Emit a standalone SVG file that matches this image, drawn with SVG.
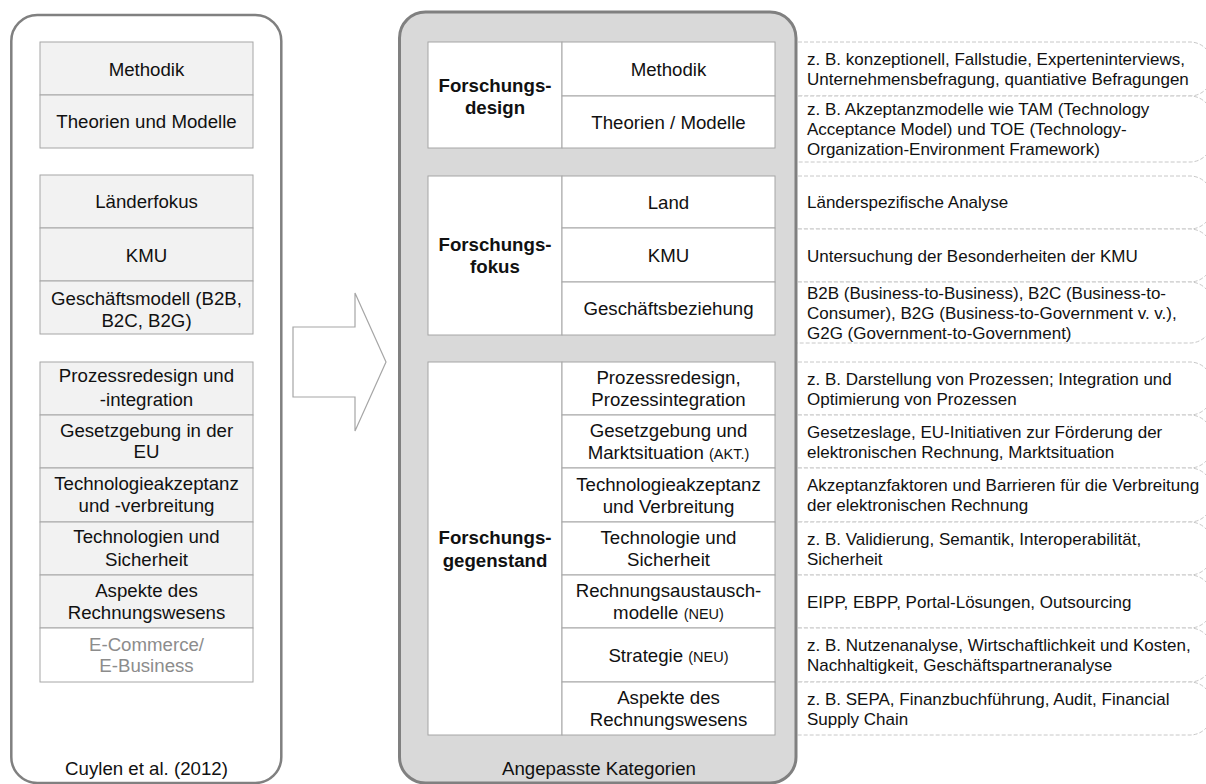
<svg xmlns="http://www.w3.org/2000/svg" width="1206" height="784" viewBox="0 0 1206 784">
<defs>
<style>
text{font-family:"Liberation Sans",Arial,sans-serif;fill:#111}
.t{font-size:18.67px;text-anchor:middle}
.b{font-size:18.67px;text-anchor:middle;font-weight:bold}
.s{font-size:14.5px}
.d{font-size:17px}
.g{fill:#8c8c8c}
.panel{fill:#fff;stroke:#808080;stroke-width:2.5}
.mpanel{fill:#d9d9d9;stroke:#808080;stroke-width:3}
.cell{fill:#f2f2f2;stroke:#a6a6a6;stroke-width:1}
.wcell{fill:#fff;stroke:#a6a6a6;stroke-width:1}
.dash{fill:#fff;stroke:#c8c8c8;stroke-width:1;stroke-dasharray:4 2}
</style>
</defs>
<rect width="1206" height="784" fill="#fff"/>

<g id="left-panel">
<rect class="panel" x="11.3" y="15" width="270" height="768" rx="26"/>
<text class="t" x="146.5" y="775">Cuylen et al. (2012)</text>
</g>
<g id="left-group1">
<rect class="cell" x="40" y="42" width="213" height="53"/>
<rect class="cell" x="40" y="95" width="213" height="53"/>
<text class="t" x="146.5" y="76">Methodik</text>
<text class="t" x="146.5" y="128.4">Theorien und Modelle</text>
</g>
<g id="left-group2">
<rect class="cell" x="40" y="175" width="213" height="53"/>
<rect class="cell" x="40" y="228" width="213" height="53"/>
<rect class="cell" x="40" y="281" width="213" height="53"/>
<text class="t" x="146.5" y="208.4">Länderfokus</text>
<text class="t" x="146.5" y="261.7">KMU</text>
<text class="t" x="146.5" y="305">Geschäftsmodell (B2B,</text>
<text class="t" x="146.5" y="326.7">B2C, B2G)</text>
</g>
<g id="left-group3">
<rect class="cell" x="40" y="362" width="213" height="53"/>
<rect class="cell" x="40" y="415" width="213" height="53"/>
<rect class="cell" x="40" y="468" width="213" height="54"/>
<rect class="cell" x="40" y="522" width="213" height="53"/>
<rect class="cell" x="40" y="575" width="213" height="53"/>
<rect class="wcell" x="40" y="628" width="213" height="54"/>
<text class="t" x="146.5" y="381.7">Prozessredesign und</text>
<text class="t" x="146.5" y="406">-integration</text>
<text class="t" x="146.5" y="436.7">Gesetzgebung in der</text>
<text class="t" x="146.5" y="458.4">EU</text>
<text class="t" x="146.5" y="490">Technologieakzeptanz</text>
<text class="t" x="146.5" y="511.7">und -verbreitung</text>
<text class="t" x="146.5" y="543.4">Technologien und</text>
<text class="t" x="146.5" y="565.7">Sicherheit</text>
<text class="t" x="146.5" y="596.7">Aspekte des</text>
<text class="t" x="146.5" y="619">Rechnungswesens</text>
<text class="t g" x="146.5" y="650.7">E-Commerce/</text>
<text class="t g" x="146.5" y="672.4">E-Business</text>
</g>

<g id="connectors">
<polygon points="293,327 355,327 355,293 386,362 355,431 355,397 293,397" fill="#fff" stroke="#a6a6a6" stroke-width="1.2"/>
</g>

<g id="descriptions-frames">
<rect class="dash" x="770" y="42" width="442" height="54" rx="22"/>
<rect class="dash" x="770" y="96" width="442" height="66" rx="22"/>
<rect class="dash" x="770" y="176" width="442" height="53" rx="22"/>
<rect class="dash" x="770" y="229" width="442" height="53" rx="22"/>
<rect class="dash" x="770" y="282" width="442" height="61" rx="22"/>
<rect class="dash" x="770" y="362" width="442" height="53" rx="22"/>
<rect class="dash" x="770" y="415" width="442" height="53" rx="22"/>
<rect class="dash" x="770" y="468" width="442" height="54" rx="22"/>
<rect class="dash" x="770" y="522" width="442" height="53" rx="22"/>
<rect class="dash" x="770" y="575" width="442" height="53" rx="22"/>
<rect class="dash" x="770" y="628" width="442" height="54" rx="22"/>
<rect class="dash" x="770" y="682" width="442" height="53" rx="22"/>
</g>

<g id="middle-panel">
<rect class="mpanel" x="399.5" y="12" width="396.5" height="771" rx="26"/>
<text class="t" x="599" y="775">Angepasste Kategorien</text>
</g>

<g id="forschungsdesign">
<rect class="wcell" x="428" y="42" width="134" height="106"/>
<rect class="wcell" x="562" y="42" width="213" height="54"/>
<rect class="wcell" x="562" y="96" width="213" height="52"/>
<text class="b" x="495" y="91.5">Forschungs-</text>
<text class="b" x="495" y="113.5">design</text>
<text class="t" x="668.5" y="75.7">Methodik</text>
<text class="t" x="668.5" y="128.7">Theorien / Modelle</text>
</g>

<g id="forschungsfokus">
<rect class="wcell" x="428" y="176" width="134" height="159"/>
<rect class="wcell" x="562" y="176" width="213" height="52"/>
<rect class="wcell" x="562" y="228" width="213" height="54"/>
<rect class="wcell" x="562" y="282" width="213" height="53"/>
<text class="b" x="495" y="250.7">Forschungs-</text>
<text class="b" x="495" y="273">fokus</text>
<text class="t" x="668.5" y="208.7">Land</text>
<text class="t" x="668.5" y="261.7">KMU</text>
<text class="t" x="668.5" y="315">Geschäftsbeziehung</text>
</g>

<g id="forschungsgegenstand">
<rect class="wcell" x="428" y="362" width="134" height="373"/>
<rect class="wcell" x="562" y="362" width="213" height="53"/>
<rect class="wcell" x="562" y="415" width="213" height="53"/>
<rect class="wcell" x="562" y="468" width="213" height="54"/>
<rect class="wcell" x="562" y="522" width="213" height="53"/>
<rect class="wcell" x="562" y="575" width="213" height="53"/>
<rect class="wcell" x="562" y="628" width="213" height="54"/>
<rect class="wcell" x="562" y="682" width="213" height="53"/>
<text class="b" x="495" y="543.7">Forschungs-</text>
<text class="b" x="495" y="566.5">gegenstand</text>
<text class="t" x="668.5" y="384.2">Prozessredesign,</text>
<text class="t" x="668.5" y="406.2">Prozessintegration</text>
<text class="t" x="668.5" y="437.2">Gesetzgebung und</text>
<text class="t" x="668.5" y="459.2">Marktsituation <tspan class="s">(AKT.)</tspan></text>
<text class="t" x="668.5" y="490.7">Technologieakzeptanz</text>
<text class="t" x="668.5" y="512.7">und Verbreitung</text>
<text class="t" x="668.5" y="544.2">Technologie und</text>
<text class="t" x="668.5" y="566.2">Sicherheit</text>
<text class="t" x="668.5" y="597.2">Rechnungsaustausch-</text>
<text class="t" x="668.5" y="619.2">modelle <tspan class="s">(NEU)</tspan></text>
<text class="t" x="668.5" y="661.7">Strategie <tspan class="s">(NEU)</tspan></text>
<text class="t" x="668.5" y="704.2">Aspekte des</text>
<text class="t" x="668.5" y="726.2">Rechnungswesens</text>
</g>

<g id="descriptions-text">
<text class="d" x="807" y="65">z. B. konzeptionell, Fallstudie, Experteninterviews,</text>
<text class="d" x="807" y="85">Unternehmensbefragung, quantiative Befragungen</text>
<text class="d" x="807" y="115">z. B. Akzeptanzmodelle wie TAM (Technology</text>
<text class="d" x="807" y="135">Acceptance Model) und TOE (Technology-</text>
<text class="d" x="807" y="155">Organization-Environment Framework)</text>
<text class="d" x="807" y="208">Länderspezifische Analyse</text>
<text class="d" x="807" y="261.5">Untersuchung der Besonderheiten der KMU</text>
<text class="d" x="807" y="299">B2B (Business-to-Business), B2C (Business-to-</text>
<text class="d" x="807" y="319">Consumer), B2G (Business-to-Government v. v.),</text>
<text class="d" x="807" y="339">G2G (Government-to-Government)</text>
<text class="d" x="807" y="385">z. B. Darstellung von Prozessen; Integration und</text>
<text class="d" x="807" y="405">Optimierung von Prozessen</text>
<text class="d" x="807" y="437.5">Gesetzeslage, EU-Initiativen zur Förderung der</text>
<text class="d" x="807" y="457.5">elektronischen Rechnung, Marktsituation</text>
<text class="d" x="807" y="491">Akzeptanzfaktoren und Barrieren für die Verbreitung</text>
<text class="d" x="807" y="511">der elektronischen Rechnung</text>
<text class="d" x="807" y="544.5">z. B. Validierung, Semantik, Interoperabilität,</text>
<text class="d" x="807" y="564.5">Sicherheit</text>
<text class="d" x="807" y="607.5">EIPP, EBPP, Portal-Lösungen, Outsourcing</text>
<text class="d" x="807" y="651">z. B. Nutzenanalyse, Wirtschaftlichkeit und Kosten,</text>
<text class="d" x="807" y="671">Nachhaltigkeit, Geschäftspartneranalyse</text>
<text class="d" x="807" y="704.5">z. B. SEPA, Finanzbuchführung, Audit, Financial</text>
<text class="d" x="807" y="724.5">Supply Chain</text>
</g>
</svg>
